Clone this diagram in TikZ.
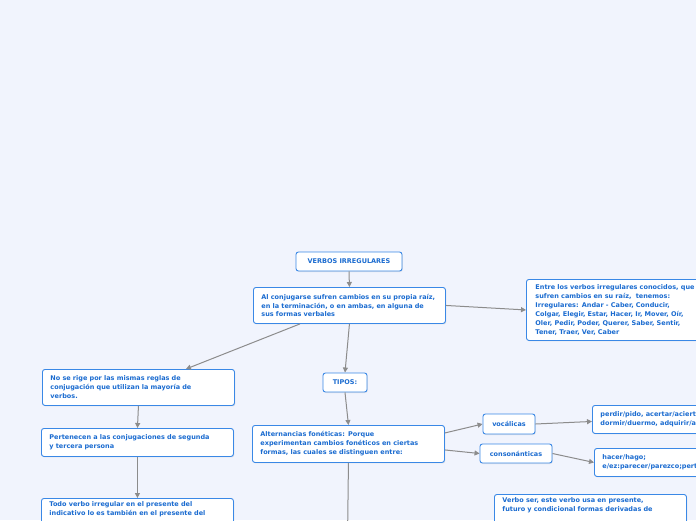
\documentclass[tikz,border=0pt]{standalone}
\usepackage{fontspec}
\setmainfont{DejaVu Sans}
\usetikzlibrary{shadows,arrows.meta,calc}
\definecolor{bg}{HTML}{F1F4FD}
\definecolor{bd}{HTML}{3A88E6}
\definecolor{tx}{HTML}{1A6BD0}
\definecolor{ln}{HTML}{8C8C8C}
\tikzset{
  box/.style={draw=bd, fill=white, rounded corners=2.5pt, line width=0.9pt,
    text=tx, font=\bfseries\fontsize{6.5}{8.9}\selectfont, align=left,
    anchor=north west, inner xsep=8pt, inner ysep=3pt,
    drop shadow={opacity=0.15, shadow xshift=0.8pt, shadow yshift=-1pt}},
  cbox/.style={box, align=center, anchor=center, inner xsep=0pt},
  conn/.style={draw=ln, line width=1pt, -{Triangle[length=5pt,width=5pt]}},
  plain/.style={draw=ln, line width=1pt},
}
\begin{document}
\begin{tikzpicture}[x=1pt,y=-1pt]
\useasboundingbox[fill=bg] (0,0) rectangle (696,520);
\clip (0,0) rectangle (696,520);
% nodes
\node[cbox, minimum width=106, minimum height=19] (v) at (349,261.5) {VERBOS IRREGULARES};
\node[box, minimum width=191, minimum height=36, text width=176] (b2) at (253,287)
  {Al conjugarse sufren cambios en su propia raíz,\\en la terminación, o en ambas, en alguna de\\sus formas verbales};
\node[box, minimum width=200, minimum height=61, text width=190, inner xsep=9pt] (r) at (526,279)
  {Entre los verbos irregulares conocidos, que\\sufren cambios en su raíz,\ \ tenemos:\\Irregulares: Andar - Caber, Conducir,\\Colgar, Elegir, Estar, Hacer, Ir, Mover, Oír,\\Oler, Pedir, Poder, Querer, Saber, Sentir,\\Tener, Traer, Ver, Caber};
\node[box, minimum width=191, minimum height=36, text width=176] (b4) at (42,369)
  {No se rige por las mismas reglas de\\conjugación que utilizan la mayoría de\\verbos.};
\node[box, minimum width=191, minimum height=28, text width=176] (b5) at (41,428)
  {Pertenecen a las conjugaciones de segunda\\y tercera persona};
\node[box, minimum width=191, text width=176, text depth=30pt] (b6) at (41,498)
  {Todo verbo irregular en el presente del\\indicativo lo es también en el presente del};
\node[cbox, minimum width=44, minimum height=19] (t) at (345,382.5) {TIPOS:};
\node[box, minimum width=191, minimum height=37, text width=176] (b8) at (252,425)
  {Alternancias fonéticas: Porque\\experimentan cambios fonéticos en ciertas\\formas, las cuales se distinguen entre:};
\node[cbox, minimum width=52, minimum height=20] (voc) at (509,424) {vocálicas};
\node[cbox, minimum width=72, minimum height=19] (con) at (516,453.5) {consonánticas};
\node[box, minimum width=200, minimum height=28, text width=190] (p) at (592,405)
  {perdir/pido, acertar/acierto,\\dormir/duermo, adquirir/adquiero};
\node[box, minimum width=200, minimum height=28, text width=190] (h) at (594,448)
  {hacer/hago;\\e/ez:parecer/parezco;pertenecer};
\node[box, minimum width=191, text width=176, text depth=30pt] (s) at (494,494)
  {Verbo ser, este verbo usa en presente,\\futuro y condicional formas derivadas de};
\coordinate (e) at (347.5,540);
% connectors
\draw[conn] (v.south) -- (b2.north);
\draw[conn] (b2.east) -- (r.west);
\draw[conn] ([xshift=47pt]b2.south west) -- ([xshift=47.5pt]b4.north);
\draw[conn] (b2.south) -- (t.north);
\draw[conn] (b4.south) -- (b5.north);
\draw[conn] (b5.south) -- (b6.north);
\draw[conn] (t.south) -- (b8.north);
\draw[conn] ([yshift=11pt]b8.east) -- (voc.west);
\draw[conn] ([yshift=-6pt]b8.east) -- (con.west);
\draw[conn] (voc.east) -- ([yshift=-2pt]p.west);
\draw[conn] (con.east) -- (h.west);
\draw[plain] (b8.south) -- (e);
\end{tikzpicture}
\end{document}
